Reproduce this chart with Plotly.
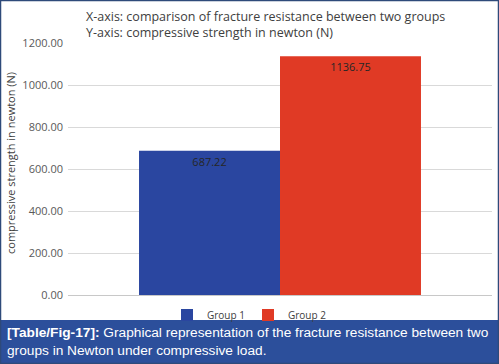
import plotly.graph_objects as go

categories = ["Compressive strength"]
series_names = ["Group 1", "Group 2"]
group1_values = [687.22]
group2_values = [1136.75]
series_colors = ["#2a46a0", "#e03a25"]
tick_values = [0, 200, 400, 600, 800, 1000, 1200]
tick_labels = ["0.00", "200.00", "400.00", "600.00", "800.00", "1000.00", "1200.00"]

title_lines = ["X-axis: comparison of fracture resistance between two groups",
               "Y-axis: compressive strength in newton (N)"]
y_title = "compressive strength in newton (N)"
caption_bold = "[Table/Fig-17]:"
caption_rest = " Graphical representation of the fracture resistance between two<br>groups in Newton under compressive load."

W, H = 499, 364
ML, MR, MT, MB = 68, 7, 43, 69
PW, PH = W - ML - MR, H - MT - MB


def px(x):
    return (x - ML) / PW


def py(y):
    return (H - MB - y) / PH


fig = go.Figure()
for name, vals, col in zip(series_names, [group1_values, group2_values], series_colors):
    fig.add_trace(go.Bar(
        x=categories, y=vals, name=name, marker=dict(color=col, line=dict(width=0)),
        text=[f"{v:.2f}" for v in vals], textposition="inside", insidetextanchor="end",
        textfont=dict(family="Open Sans", size=11, color="#262626"),
        textangle=0, constraintext="none",
    ))

text_font = "Open Sans"
fig.update_layout(
    width=W, height=H,
    margin=dict(l=ML, r=MR, t=MT, b=MB, autoexpand=False),
    paper_bgcolor="white", plot_bgcolor="white",
    barmode="group", bargap=0.335, bargroupgap=0,
    showlegend=True,
    legend=dict(orientation="h", xref="container", yref="container",
                x=167 / W, y=(H - 315) / H, xanchor="left", yanchor="middle",
                font=dict(family=text_font, size=10, color="#404040"),
                itemwidth=30, entrywidth=36, bgcolor="rgba(0,0,0,0)", tracegroupgap=0),
    xaxis=dict(range=[-0.5, 0.5], showticklabels=False, showgrid=False, showline=True,
               linecolor="#c8c8c8", linewidth=1, ticks="", zeroline=False, automargin=False),
    yaxis=dict(range=[0, 1200], tickvals=tick_values, ticktext=tick_labels,
               showgrid=True, gridcolor="#d9d9d9", gridwidth=1, zeroline=False,
               showline=False, ticks="", ticklabelstandoff=4, automargin=False,
               tickfont=dict(family=text_font, size=11, color="#595959")),
    font=dict(family=text_font),
)

# Title lines
fig.add_annotation(xref="paper", yref="paper", x=px(84), y=py(24), xanchor="left", yanchor="middle",
                   text="<br>".join(title_lines), showarrow=False, align="left",
                   font=dict(family=text_font, size=12.5, color="#404040"))
# Y axis title
fig.add_annotation(xref="paper", yref="paper", x=px(10), y=py(163), xanchor="center", yanchor="middle",
                   text=y_title, textangle=-90, showarrow=False,
                   font=dict(family=text_font, size=11, color="#404040"))

# Caption band and border
fig.add_shape(type="rect", xref="paper", yref="paper", x0=px(0), x1=px(W), y0=py(H), y1=py(320),
              fillcolor="#2c4f9b", line=dict(width=0), layer="below")
fig.add_shape(type="rect", xref="paper", yref="paper", x0=px(0.5), x1=px(W - 0.5), y0=py(H - 0.5), y1=py(0.5),
              fillcolor="rgba(0,0,0,0)", line=dict(width=1.5, color="#2e4a7a"))
fig.add_annotation(xref="paper", yref="paper", x=px(5), y=py(341), xanchor="left", yanchor="middle",
                   text=f"<b>{caption_bold}</b>{caption_rest}", showarrow=False, align="left",
                   font=dict(family="Liberation Sans", size=13.7, color="white"))

fig.write_html("out.html", config={"displayModeBar": False},
               post_script="document.body.style.margin='0';document.body.style.overflow='hidden';")
